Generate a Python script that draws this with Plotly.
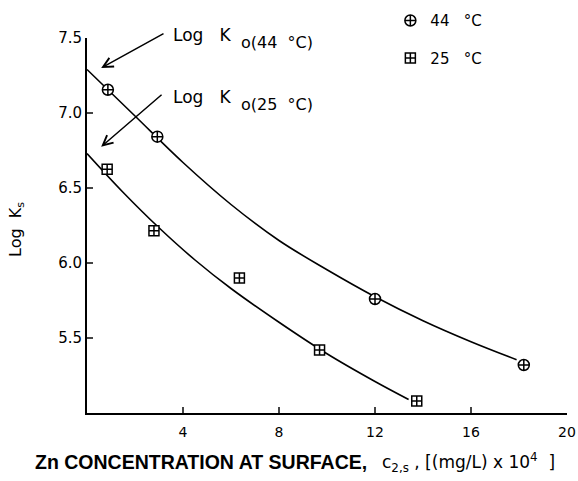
import plotly.graph_objects as go

# measured points
x44 = [0.87, 2.93, 12.0, 18.2]
y44 = [7.155, 6.842, 5.76, 5.32]
x25 = [0.84, 2.79, 6.35, 9.69, 13.74]
y25 = [6.625, 6.215, 5.90, 5.42, 5.08]

# fitted curves
cx44 = [0.0, 2.0, 4.0, 6.0, 8.0, 10.0, 12.0, 14.0, 16.0, 17.9]
cy44 = [7.29, 6.98, 6.67, 6.39, 6.15, 5.955, 5.775, 5.615, 5.475, 5.355]
cx25 = [0.0, 1.5, 3.0, 4.5, 6.0, 8.0, 10.0, 12.0, 13.4]
cy25 = [6.73, 6.472, 6.235, 6.02, 5.83, 5.605, 5.395, 5.21, 5.09]

xticks = [4, 8, 12, 16, 20]
yticks = [5.5, 6.0, 6.5, 7.0, 7.5]
ytick_text = ["5.5", "6.0", "6.5", "7.0", "7.5"]

FONT = "DejaVu Sans"
fig = go.Figure()
fig.add_trace(go.Scatter(x=cx44, y=cy44, mode="lines",
                         line=dict(color="black", width=1.6, shape="spline", smoothing=1.0),
                         showlegend=False, hoverinfo="skip"))
fig.add_trace(go.Scatter(x=cx25, y=cy25, mode="lines",
                         line=dict(color="black", width=1.6, shape="spline", smoothing=1.0),
                         showlegend=False, hoverinfo="skip"))
fig.add_trace(go.Scatter(x=x44, y=y44, mode="markers", name="44\u00a0\u00a0 °C", legendgroup="a",
                         marker=dict(symbol="circle-cross", size=11, color="white",
                                     line=dict(color="black", width=1.5)), cliponaxis=False))
fig.add_trace(go.Scatter(x=x25, y=y25, mode="markers", name="25\u00a0\u00a0 °C", legendgroup="b",
                         marker=dict(symbol="square-cross", size=10, color="white",
                                     line=dict(color="black", width=1.5)), cliponaxis=False))

def px_x(p):
    return (p - 87.0) / 480.0

def px_y(p):
    return (413.0 - p) / 375.0

lab = dict(family=FONT, size=17, color="black")
sub = dict(family=FONT, size=16, color="black")
annotations = [
    dict(x=0.59, y=7.30, ax=3.25, ay=7.535, xref="x", yref="y", axref="x", ayref="y",
         text="", showarrow=True, arrowhead=5, arrowsize=1.3, arrowwidth=1.5, arrowcolor="black"),
    dict(x=0.59, y=6.775, ax=3.17, ay=7.13, xref="x", yref="y", axref="x", ayref="y",
         text="", showarrow=True, arrowhead=5, arrowsize=1.3, arrowwidth=1.5, arrowcolor="black"),
    dict(x=px_x(171), y=px_y(35), xref="paper", yref="paper", xanchor="left", yanchor="middle",
         showarrow=False, text="Log\u00a0\u00a0\u00a0K", font=lab),
    dict(x=px_x(239), y=px_y(42), xref="paper", yref="paper", xanchor="left", yanchor="middle",
         showarrow=False, text="o(44\u00a0\u00a0°C)", font=sub),
    dict(x=px_x(171), y=px_y(97), xref="paper", yref="paper", xanchor="left", yanchor="middle",
         showarrow=False, text="Log\u00a0\u00a0\u00a0K", font=lab),
    dict(x=px_x(239), y=px_y(104), xref="paper", yref="paper", xanchor="left", yanchor="middle",
         showarrow=False, text="o(25\u00a0\u00a0°C)", font=sub),
    dict(x=px_x(369), y=px_y(462), xref="paper", yref="paper", xanchor="right", yanchor="middle",
         showarrow=False, text="<b>Zn CONCENTRATION AT SURFACE,</b>",
         font=dict(family="Liberation Sans", size=19.5, color="black")),
    dict(x=px_x(380), y=px_y(462), xref="paper", yref="paper", xanchor="left", yanchor="middle",
         showarrow=False, text="c<sub>2,s</sub>\u00a0,\u00a0[(mg/L)\u00a0x\u00a010<sup>4</sup>\u00a0\u00a0]",
         font=dict(family=FONT, size=17, color="black")),
    dict(x=px_x(16), y=px_y(230), xref="paper", yref="paper", xanchor="center", yanchor="middle",
         showarrow=False, textangle=-90, text="Log\u00a0\u00a0K<sub>s</sub>",
         font=dict(family=FONT, size=16, color="black")),
]

fig.update_layout(
    width=578, height=481,
    margin=dict(l=87, r=11, t=38, b=68, autoexpand=False),
    paper_bgcolor="white", plot_bgcolor="white",
    font=dict(family=FONT, size=14, color="black"),
    annotations=annotations,
    legend=dict(x=0.632, y=1.09, xanchor="left", yanchor="top", tracegroupgap=15,
                font=dict(family=FONT, size=15), bgcolor="rgba(0,0,0,0)"),
    xaxis=dict(range=[0, 20], tickvals=xticks, ticks="inside", ticklen=6, tickwidth=1.5,
               showline=True, linecolor="black", linewidth=2, showgrid=False, zeroline=False,
               ticklabelstandoff=5, tickfont=dict(family=FONT, size=14)),
    yaxis=dict(range=[5.0, 7.5], tickvals=yticks, ticktext=ytick_text, ticks="inside", ticklen=6, tickwidth=1.5,
               showline=True, linecolor="black", linewidth=2, showgrid=False, zeroline=False,
               tickfont=dict(family=FONT, size=15)),
)

fig.write_html("out.html")
